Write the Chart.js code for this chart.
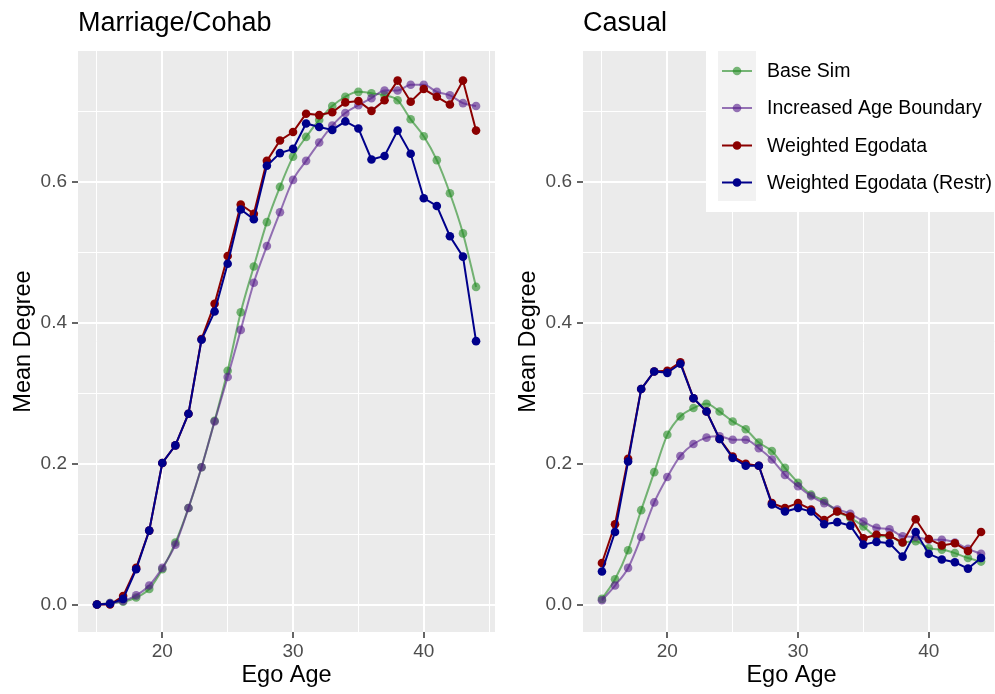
<!DOCTYPE html>
<html>
<head>
<meta charset="utf-8">
<script src="https://cdn.jsdelivr.net/npm/chart.js@4.4.1/dist/chart.umd.min.js"></script>
<style>
html, body { margin: 0; padding: 0; background: #fff; width: 995px; height: 694px; overflow: hidden; }
canvas { position: absolute; top: 0; }
#marriage { left: 0; }
#casual { left: 505px; }
</style>
</head>
<body>
<canvas id="marriage" width="500" height="694"></canvas>
<canvas id="casual" width="505" height="694"></canvas>
<script>
const ages = [15, 16, 17, 18, 19, 20, 21, 22, 23, 24, 25, 26, 27, 28, 29,
              30, 31, 32, 33, 34, 35, 36, 37, 38, 39, 40, 41, 42, 43, 44];

const seriesNames = ['Base Sim', 'Increased Age Boundary', 'Weighted Egodata', 'Weighted Egodata (Restr)'];
const seriesColors = ['rgba(34,139,34,0.6)', 'rgba(85,26,139,0.6)', '#8b0000', '#00008b'];
const smoothed = [true, true, false, false];

// marriage / cohab mean degree by ego age
const mcBase = [0, 0.002, 0.004, 0.010, 0.022, 0.050, 0.088, 0.137, 0.195, 0.261, 0.332, 0.415, 0.480, 0.543, 0.593,
                0.636, 0.664, 0.688, 0.708, 0.721, 0.728, 0.726, 0.723, 0.716, 0.689, 0.665, 0.631, 0.584, 0.527, 0.451];
const mcAgeBound = [0, 0.002, 0.005, 0.013, 0.027, 0.052, 0.085, 0.137, 0.195, 0.260, 0.323, 0.390, 0.457, 0.509, 0.557,
                    0.603, 0.630, 0.656, 0.680, 0.698, 0.709, 0.719, 0.730, 0.730, 0.738, 0.738, 0.728, 0.723, 0.712, 0.708];
const mcWeighted = [0, 0, 0.012, 0.052, 0.105, 0.201, 0.226, 0.271, 0.377, 0.427, 0.495, 0.568, 0.555, 0.630, 0.659,
                    0.671, 0.697, 0.695, 0.699, 0.713, 0.715, 0.701, 0.716, 0.744, 0.714, 0.732, 0.721, 0.710, 0.744, 0.673];
const mcRestr = [0, 0.001, 0.008, 0.050, 0.105, 0.201, 0.226, 0.271, 0.376, 0.416, 0.484, 0.561, 0.547, 0.623, 0.641,
                 0.647, 0.683, 0.678, 0.674, 0.686, 0.676, 0.632, 0.637, 0.673, 0.640, 0.577, 0.566, 0.523, 0.494, 0.374];

// casual mean degree by ego age
const csBase = [0.008, 0.036, 0.077, 0.134, 0.188, 0.241, 0.267, 0.279, 0.285, 0.274, 0.260, 0.249, 0.230, 0.218, 0.194,
                0.173, 0.156, 0.147, 0.132, 0.123, 0.111, 0.097, 0.097, 0.088, 0.090, 0.080, 0.078, 0.073, 0.066, 0.061];
const csAgeBound = [0.006, 0.027, 0.052, 0.096, 0.145, 0.181, 0.211, 0.228, 0.237, 0.239, 0.234, 0.234, 0.222, 0.206, 0.184,
                    0.168, 0.154, 0.144, 0.135, 0.129, 0.118, 0.109, 0.107, 0.097, 0.096, 0.092, 0.092, 0.088, 0.079, 0.072];
const csWeighted = [0.059, 0.114, 0.207, 0.306, 0.331, 0.332, 0.344, 0.293, 0.274, 0.235, 0.210, 0.200, 0.197, 0.144, 0.137,
                    0.144, 0.135, 0.120, 0.132, 0.125, 0.094, 0.099, 0.098, 0.088, 0.121, 0.093, 0.084, 0.087, 0.076, 0.103];
const csRestr = [0.047, 0.103, 0.203, 0.306, 0.331, 0.329, 0.342, 0.293, 0.274, 0.235, 0.208, 0.197, 0.197, 0.142, 0.132,
                 0.137, 0.132, 0.114, 0.117, 0.112, 0.085, 0.089, 0.087, 0.068, 0.103, 0.072, 0.064, 0.060, 0.051, 0.066];

// grid lines: majors get a label, minors are thin unlabeled lines
const xGrid = [15, 20, 25, 30, 35, 40, 45];
const yGrid = [0, 0.1, 0.2, 0.3, 0.4, 0.5, 0.6, 0.7];

const FONT = '"Liberation Sans", Arial, Helvetica, sans-serif';
Chart.defaults.font.family = FONT;

const panelBg = {
  id: 'panelBg',
  beforeDraw(chart) {
    const { ctx, chartArea: a } = chart;
    ctx.save();
    ctx.fillStyle = '#ebebeb';
    ctx.fillRect(a.left, a.top, a.right - a.left, a.bottom - a.top);
    ctx.restore();
  }
};

// legend box sitting in the top-right corner of the casual panel
const cornerLegend = {
  id: 'cornerLegend',
  afterDraw(chart) {
    const ctx = chart.ctx;
    const boxLeft = 201, boxTop = 51, boxBottom = 212;
    const keyLeft = 213, keyRight = 251, rowY = [71, 108, 145.5, 182.5];
    ctx.save();
    ctx.fillStyle = '#fff';
    ctx.fillRect(boxLeft, boxTop, chart.width - boxLeft, boxBottom - boxTop);
    ctx.fillStyle = '#f2f2f2';
    ctx.fillRect(keyLeft, boxTop, keyRight - keyLeft, 150);
    seriesNames.forEach((name, i) => {
      const y = rowY[i];
      ctx.strokeStyle = seriesColors[i];
      ctx.lineWidth = 2;
      ctx.beginPath();
      ctx.moveTo(keyLeft + 4, y);
      ctx.lineTo(keyRight - 4, y);
      ctx.stroke();
      ctx.fillStyle = seriesColors[i];
      ctx.beginPath();
      ctx.arc((keyLeft + keyRight) / 2, y, 4.3, 0, Math.PI * 2);
      ctx.fill();
      ctx.fillStyle = '#000';
      ctx.font = '19.5px ' + FONT;
      ctx.textBaseline = 'middle';
      ctx.textAlign = 'left';
      ctx.fillText(name, 262, y + 1);
    });
    ctx.restore();
  }
};

function makePanel(id, title, series, extraPlugins, padRight) {
  const datasets = series.map((vals, i) => ({
    label: seriesNames[i],
    data: ages.map((a, j) => ({ x: a, y: vals[j] })),
    borderColor: seriesColors[i],
    backgroundColor: seriesColors[i],
    borderWidth: 2,
    pointRadius: 4.3,
    pointBorderWidth: 0,
    pointHoverRadius: 4.3,
    cubicInterpolationMode: smoothed[i] ? 'monotone' : 'default',
    order: 4 - i
  }));

  return new Chart(document.getElementById(id), {
    type: 'line',
    data: { datasets },
    plugins: [panelBg].concat(extraPlugins),
    options: {
      responsive: false,
      animation: false,
      events: [],
      layout: { padding: { left: 0, right: padRight, top: 0, bottom: 0 } },
      plugins: {
        legend: { display: false },
        tooltip: { enabled: false },
        title: {
          display: true,
          text: title,
          align: 'start',
          fullSize: false,
          color: '#000',
          font: { size: 27, weight: 'normal' },
          padding: { top: 7.8, bottom: 10.8 }
        }
      },
      scales: {
        x: {
          type: 'linear',
          min: 13.55,
          max: 45.45,
          afterBuildTicks: s => { s.ticks = xGrid.map(v => ({ value: v })); },
          afterFit: s => { s.height = 62; },
          border: { display: false },
          grid: {
            color: '#fff',
            lineWidth: c => (c.index % 2 === 1 ? 2 : 1),
            tickColor: c => (c.index % 2 === 1 ? '#333' : 'rgba(0,0,0,0)'),
            tickLength: 6,
            tickWidth: 1.5
          },
          ticks: {
            autoSkip: false,
            maxRotation: 0,
            padding: 2.5,
            color: '#4d4d4d',
            font: { size: 19 },
            callback: (v, i) => (i % 2 === 1 ? String(v) : '')
          },
          title: {
            display: true,
            text: 'Ego Age',
            color: '#000',
            font: { size: 23.5 },
            padding: { top: 0, bottom: 4 }
          }
        },
        y: {
          type: 'linear',
          min: -0.039,
          max: 0.786,
          afterBuildTicks: s => { s.ticks = yGrid.map(v => ({ value: v })); },
          afterFit: s => { s.width = 78; },
          border: { display: false },
          grid: {
            color: '#fff',
            lineWidth: c => (c.index % 2 === 0 ? 2 : 1),
            tickColor: c => (c.index % 2 === 0 ? '#333' : 'rgba(0,0,0,0)'),
            tickLength: 6,
            tickWidth: 1.5
          },
          ticks: {
            autoSkip: false,
            padding: 5,
            color: '#4d4d4d',
            font: { size: 19 },
            callback: (v, i) => (i % 2 === 0 ? v.toFixed(1) : '')
          },
          title: {
            display: true,
            text: 'Mean Degree',
            color: '#000',
            font: { size: 23.5 },
            padding: { top: 9, bottom: 0 }
          }
        }
      }
    }
  });
}

makePanel('marriage', 'Marriage/Cohab', [mcBase, mcAgeBound, mcWeighted, mcRestr], [], 5);
makePanel('casual', 'Casual', [csBase, csAgeBound, csWeighted, csRestr], [cornerLegend], 10);
</script>
</body>
</html>
